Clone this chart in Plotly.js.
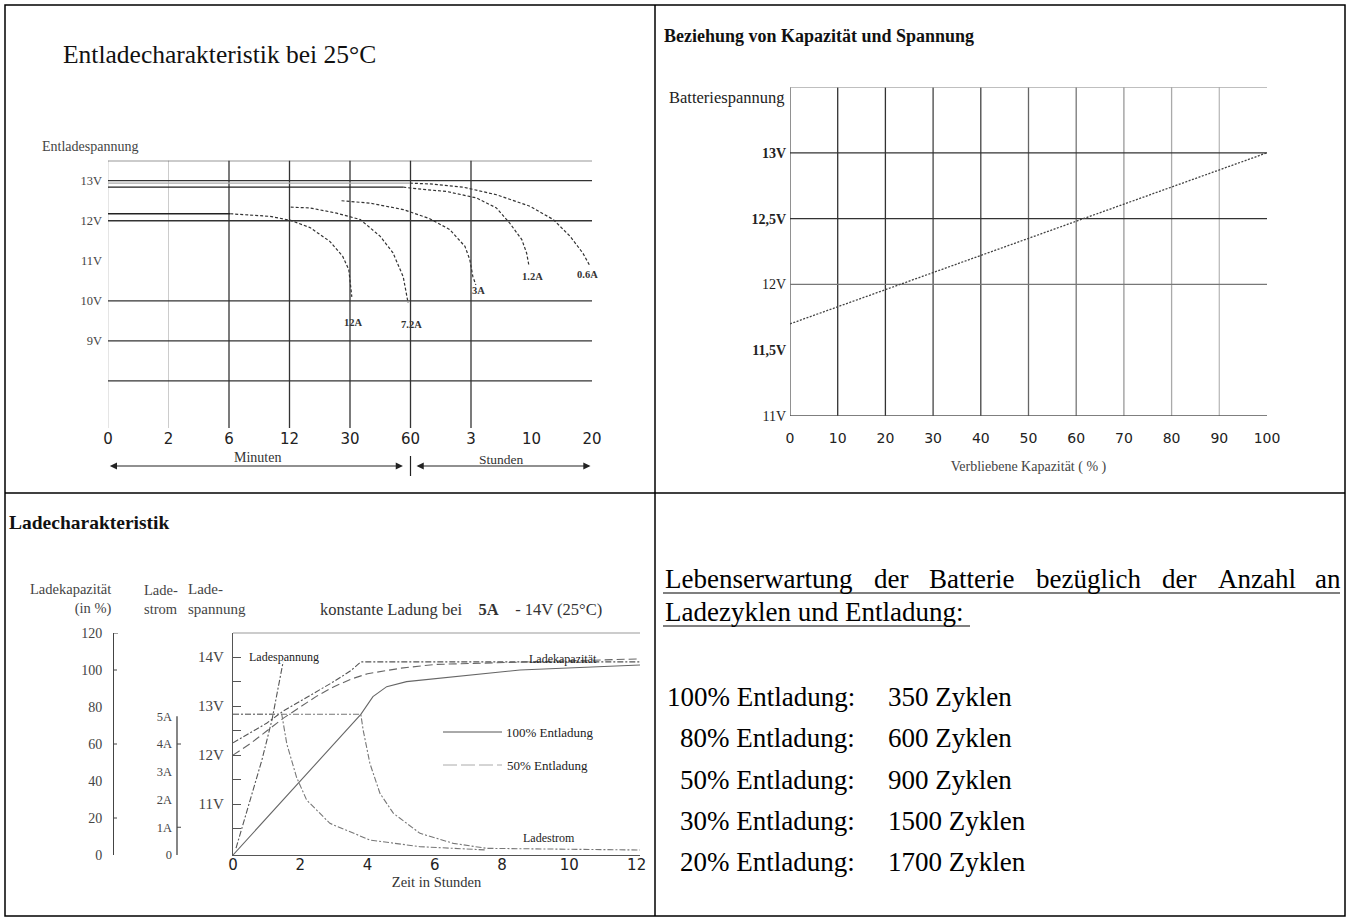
<!DOCTYPE html>
<html><head><meta charset="utf-8">
<script src="https://cdn.plot.ly/plotly-3.0.1.min.js"></script>
<style>html,body{margin:0;padding:0;background:#fff}#chart{width:1349px;height:919px}</style>
</head><body><div id="chart"></div>
<script>
// ---------------- DATA ----------------
// Panel 1: Entladecharakteristik (x = position on the mixed minutes/hours scale)
const dischargeTickLabels = ['0','2','6','12','30','60','3','10','20'];
const dischargeTickPos = [0,1,2,3,4,5,6,7,8];
const dischargeVoltTicks = [13,12,11,10,9];
const dischargeVoltText = ['13V','12V','11V','10V','9V'];
const dischargeGridVolt = [13.5,13,12,10,9,8];
const dischargeGridDark = [2,3,4,5,6];
const dischargeGridLight = [0,1];

const plateau12A_x = [0, 2.02];
const plateau12A_v = [12.175, 12.175];
const curve12A_x = [2.02, 2.68, 3.02, 3.34, 3.67, 3.88, 3.98, 4.03];
const curve12A_v = [12.175, 12.11, 12.01, 11.83, 11.48, 11.11, 10.78, 10.1];

const curve72A_x = [3.02, 3.34, 3.78, 4.17, 4.50, 4.71, 4.88, 4.96];
const curve72A_v = [12.34, 12.32, 12.19, 12.03, 11.61, 11.2, 10.6, 9.95];

const curve3A_x = [3.86, 4.33, 4.88, 5.32, 5.65, 5.90, 5.98, 6.03, 6.08];
const curve3A_v = [12.5, 12.44, 12.28, 12.05, 11.78, 11.36, 11.03, 10.61, 10.4];

const plateau12_x = [0, 4.88];
const plateau12_v = [12.84, 12.84];
const curve12_x = [4.88, 5.10, 5.60, 6.09, 6.42, 6.64, 6.84, 6.92, 6.96];
const curve12_v = [12.84, 12.8, 12.73, 12.57, 12.32, 11.94, 11.53, 11.19, 10.86];

const plateau06_x = [0, 4.99];
const plateau06_v = [12.94, 12.94];
const curve06_x = [4.99, 5.32, 5.87, 6.42, 6.98, 7.36, 7.64, 7.85, 7.97];
const curve06_v = [12.94, 12.92, 12.84, 12.65, 12.36, 12.03, 11.61, 11.19, 10.86];

const currentLabels = ['12A','7.2A','3A','1.2A','0.6A'];
const currentLabelX = [4.05, 5.01, 6.13, 7.01, 7.92];
const currentLabelV = [9.45, 9.40, 10.25, 10.60, 10.65];

// Panel 2: Beziehung von Kapazitaet und Spannung
const capPct = [0,10,20,30,40,50,60,70,80,90,100];
const capVolt = [11.70,11.83,11.96,12.09,12.22,12.35,12.48,12.61,12.74,12.87,13.00];
const capVoltTicks = [11,11.5,12,12.5,13];
const capVoltText = ['11V','<b>11,5V</b>','12V','<b>12,5V</b>','<b>13V</b>'];
const capGridVolt = [13.5,13,12.5,12,11];
const capGridPct = [0,10,20,30,40,50,60,70,80,90];

// Panel 3: Ladecharakteristik
const chargeHourTicks = [0,2,4,6,8,10,12];
const chargeVoltTicks = [10.5,11,11.5,12,12.5,13,13.5,14];
const chargeVoltText = ['','11V','','12V','','13V','','14V'];
const chargePctTicks = [0,20,40,60,80,100,120];
const chargeAmpTicks = [0,1,2,3,4,5];
const chargeAmpText = ['0','1A','2A','3A','4A','5A'];

const volt100_h = [0, 0.5, 1.0, 1.5, 2.0, 2.5, 3.0, 3.5, 3.8, 6, 9, 12.1];
const volt100_v = [12.25, 12.45, 12.65, 12.9, 13.1, 13.3, 13.5, 13.72, 13.9, 13.9, 13.9, 13.9];
const volt50_h = [0.09, 0.5, 0.86, 1.16, 1.40, 1.49];
const volt50_v = [10.1, 11.08, 11.9, 12.72, 13.53, 13.9];

const cap100_h = [0, 3.8, 4.16, 4.57, 5.16, 6.55, 8.53, 12.1];
const cap100_p = [0, 76, 85.6, 91, 93.7, 96.4, 100, 102.7];
const cap50_h = [0, 0.5, 1, 1.5, 2, 2.5, 3, 3.5, 4, 5, 6, 8, 10, 12.1];
const cap50_p = [54, 60, 67, 74, 80, 86, 91, 95, 98, 101, 103, 104, 105, 106];

const cur100_h = [0, 3.8, 3.87, 4.07, 4.37, 4.77, 5.56, 6.55, 7.54, 12.1];
const cur100_a = [5.07, 5.07, 4.5, 3.3, 2.22, 1.5, 0.78, 0.42, 0.24, 0.18];
const cur50_h = [0, 1.45, 1.6, 1.89, 2.19, 2.88, 4.07, 5.56, 7.54];
const cur50_a = [5.07, 5.07, 4.0, 2.8, 1.98, 1.14, 0.54, 0.3, 0.18];

// Panel 4: Lebenserwartung
const lifeDepth = ['100%','80%','50%','30%','20%'];
const lifeCycles = [350, 600, 900, 1500, 1700];

// ---------------- LAYOUT HELPERS ----------------
const W = 1349, H = 919;
const px = v => v / W;
const py = v => 1 - v / H;
const SERIF = '"Liberation Serif", "Times New Roman", serif';
const SANS = '"DejaVu Sans", Verdana, sans-serif';

const dotted = {color:'#333', width:1.2, dash:'3px,2px'};
const traces = [];
function add(x, y, xa, ya, line){ traces.push({x:x, y:y, xaxis:xa, yaxis:ya, mode:'lines', line:line, hoverinfo:'skip', showlegend:false}); }

// Panel 1 traces
add(plateau12A_x, plateau12A_v, 'x', 'y', {color:'#222', width:1.4});
add(curve12A_x, curve12A_v, 'x', 'y', dotted);
add(curve72A_x, curve72A_v, 'x', 'y', dotted);
add(curve3A_x, curve3A_v, 'x', 'y', dotted);
add(plateau12_x, plateau12_v, 'x', 'y', {color:'#222', width:1.4});
add(curve12_x, curve12_v, 'x', 'y', dotted);
add(plateau06_x, plateau06_v, 'x', 'y', {color:'#aaa', width:1.2});
add(curve06_x, curve06_v, 'x', 'y', dotted);

// Panel 2 trace
add(capPct, capVolt, 'x2', 'y2', {color:'#444', width:1.3, dash:'2px,1.5px'});

// Panel 3 traces
add(cur100_h, cur100_a, 'x3', 'y5', {color:'#777', width:1.1, dash:'6px,2px,2px,2px'});
add(cur50_h, cur50_a, 'x3', 'y5', {color:'#777', width:1.1, dash:'6px,2px,2px,2px'});
add(volt100_h, volt100_v, 'x3', 'y3', {color:'#555', width:1.1, dash:'6px,2px,2px,2px'});
add(volt50_h, volt50_v, 'x3', 'y3', {color:'#555', width:1.1, dash:'6px,2px,2px,2px'});
add(cap100_h, cap100_p, 'x3', 'y4', {color:'#666', width:1.1});
add(cap50_h, cap50_p, 'x3', 'y4', {color:'#666', width:1.1, dash:'8px,4px'});

// ---------------- SHAPES ----------------
const shapes = [];
const blk = {color:'#000', width:1.5};
shapes.push({type:'rect', xref:'paper', yref:'paper', x0:px(5), x1:px(1345), y0:py(916), y1:py(5), line:blk});
shapes.push({type:'line', xref:'paper', yref:'paper', x0:px(655), x1:px(655), y0:py(916), y1:py(5), line:blk});
shapes.push({type:'line', xref:'paper', yref:'paper', x0:px(5), x1:px(1345), y0:py(493), y1:py(493), line:blk});

dischargeGridVolt.forEach(v => shapes.push({type:'line', xref:'x', yref:'y', x0:0, x1:8, y0:v, y1:v, line:{color:'#333', width:1.3}, layer:'below'}));
dischargeGridDark.forEach(p => shapes.push({type:'line', xref:'x', yref:'y domain', x0:p, x1:p, y0:0, y1:1, line:{color:'#333', width:1.3}, layer:'below'}));
dischargeGridLight.forEach(p => shapes.push({type:'line', xref:'x', yref:'y domain', x0:p, x1:p, y0:0, y1:1, line:{color:'#ccc', width:1}, layer:'below'}));
shapes.push({type:'line', xref:'x', yref:'paper', x0:5, x1:5, y0:py(476), y1:py(456), line:{color:'#222', width:1.2}});

const capGridColors = ['#aaa','#333','#333','#777','#555'];
capGridVolt.forEach((v,i) => shapes.push({type:'line', xref:'x2', yref:'y2', x0:0, x1:100, y0:v, y1:v, line:{color:capGridColors[i], width:1.3}, layer:'below'}));
const capVColors = ['#555','#333','#333','#444','#444','#666','#777','#999','#aaa','#bbb'];
capGridPct.forEach((p,i) => shapes.push({type:'line', xref:'x2', yref:'y2 domain', x0:p, x1:p, y0:0, y1:1, line:{color:capVColors[i], width:1.3}, layer:'below'}));

shapes.push({type:'line', xref:'x3 domain', yref:'y3 domain', x0:0, x1:1, y0:1, y1:1, line:{color:'#999', width:1.2}});
shapes.push({type:'line', xref:'paper', yref:'y5', x0:px(177), x1:px(177), y0:0, y1:5, line:{color:'#444', width:1.3}});
[1,4].forEach(a => shapes.push({type:'line', xref:'paper', yref:'y5', x0:px(177), x1:px(181), y0:a, y1:a, line:{color:'#444', width:1}}));
shapes.push({type:'line', xref:'paper', yref:'y4', x0:px(113), x1:px(118), y0:120, y1:120, line:{color:'#444', width:1}});
[20,60,100].forEach(p => shapes.push({type:'line', xref:'paper', yref:'y4', x0:px(113), x1:px(117), y0:p, y1:p, line:{color:'#444', width:1}}));
shapes.push({type:'line', xref:'paper', yref:'paper', x0:px(443), x1:px(502), y0:py(732), y1:py(732), line:{color:'#555', width:1}});
shapes.push({type:'line', xref:'paper', yref:'paper', x0:px(443), x1:px(502), y0:py(765), y1:py(765), line:{color:'#aaa', width:1, dash:'14px,4px'}});

shapes.push({type:'line', xref:'paper', yref:'paper', x0:px(663), x1:px(1340), y0:py(593), y1:py(593), line:{color:'#000', width:1.2}});
shapes.push({type:'line', xref:'paper', yref:'paper', x0:px(663), x1:px(970), y0:py(626), y1:py(626), line:{color:'#000', width:1.2}});

// ---------------- ANNOTATIONS ----------------
const ann = [];
function txt(t, x, y, o){ ann.push(Object.assign({text:t, xref:'paper', yref:'paper', x:px(x), y:py(y), showarrow:false, xanchor:'left', yanchor:'middle', font:{family:SERIF, size:13, color:'#222'}}, o||{})); }

txt('Entladecharakteristik bei 25°C', 61, 55, {font:{family:SERIF, size:25.5, color:'#111'}});
txt('Entladespannung', 40, 146, {font:{family:SERIF, size:14, color:'#444'}});
currentLabels.forEach((t,i) => ann.push({text:'<b>'+t+'</b>', xref:'x', yref:'y', x:currentLabelX[i], y:currentLabelV[i], showarrow:false, font:{family:SERIF, size:10.5, color:'#333'}}));
ann.push({text:'', xref:'x', yref:'paper', axref:'x', ayref:'pixel', x:0.03, ax:4.9, y:py(466), ay:0, showarrow:true, arrowside:'end+start', arrowhead:2, arrowsize:1.2, arrowwidth:1.2, arrowcolor:'#222'});
ann.push({text:'', xref:'x', yref:'paper', axref:'x', ayref:'pixel', x:5.1, ax:8.0, y:py(466), ay:0, showarrow:true, arrowside:'end+start', arrowhead:2, arrowsize:1.2, arrowwidth:1.2, arrowcolor:'#222'});
ann.push({text:'Minuten', xref:'x', yref:'paper', x:2.47, y:py(457), showarrow:false, font:{family:SERIF, size:14, color:'#333'}});
ann.push({text:'Stunden', xref:'x', yref:'paper', x:6.5, y:py(459), showarrow:false, font:{family:SERIF, size:13.5, color:'#333'}});

txt('<b>Beziehung von Kapazität und Spannung</b>', 662, 36, {font:{family:SERIF, size:18, color:'#111'}});
txt('Batteriespannung', 786, 97, {xanchor:'right', font:{family:SERIF, size:16.5, color:'#222'}});

txt('<b>Ladecharakteristik</b>', 7, 522, {font:{family:SERIF, size:19.5, color:'#111'}});
txt('Ladekapazität<br>(in %)', 113, 599, {xanchor:'right', align:'right', font:{family:SERIF, size:14.5, color:'#444'}});
txt('Lade-<br>strom', 142, 599, {align:'left', font:{family:SERIF, size:14.5, color:'#444'}});
txt('Lade-<br>spannung', 186, 599, {align:'left', font:{family:SERIF, size:15, color:'#444'}});
txt('konstante Ladung bei\u00a0\u00a0\u00a0 <b>5A</b>\u00a0\u00a0\u00a0 - 14V (25°C)', 318, 609, {font:{family:SERIF, size:16.5, color:'#333'}});
txt('Ladespannung', 247, 657, {font:{family:SERIF, size:12, color:'#222'}});
txt('Ladekapazität', 527, 659, {font:{family:SERIF, size:12, color:'#222'}});
txt('Ladestrom', 521, 838, {font:{family:SERIF, size:12, color:'#222'}});
txt('100% Entladung', 504, 732, {font:{family:SERIF, size:13, color:'#222'}});
txt('50% Entladung', 505, 765, {font:{family:SERIF, size:13, color:'#222'}});

const lineWords = ['Lebenserwartung','der','Batterie','bezüglich','der','Anzahl','an'];
const lineWordX = [663, 871.5, 927, 1033.5, 1159.5, 1215.5, 1313];
lineWords.forEach((w,i) => txt(w, lineWordX[i], 579, {font:{family:SERIF, size:27, color:'#000'}}));
txt('Ladezyklen und Entladung:', 663, 612, {font:{family:SERIF, size:27, color:'#000'}});
lifeDepth.forEach((d,i) => {
  const y = 697 + i*41.3;
  txt(d + ' Entladung:', 857, y, {xanchor:'right', font:{family:SERIF, size:27, color:'#000'}});
  txt(lifeCycles[i] + ' Zyklen', 886, y, {font:{family:SERIF, size:27, color:'#000'}});
});

// ---------------- LAYOUT ----------------
const layout = {
  width: W, height: H, margin:{l:0, r:0, t:0, b:0, pad:0},
  paper_bgcolor:'#fff', plot_bgcolor:'rgba(0,0,0,0)',
  showlegend:false,
  font:{family:SERIF, color:'#222'},
  xaxis:{domain:[px(108), px(592)], range:[0,8], anchor:'y', tickvals:dischargeTickPos, ticktext:dischargeTickLabels,
         showgrid:false, zeroline:false, showline:false, ticks:'', tickfont:{family:SANS, size:15, color:'#222'}},
  yaxis:{domain:[py(428), py(160.7)], range:[6.825, 13.5], anchor:'x', tickvals:dischargeVoltTicks, ticktext:dischargeVoltText,
         showgrid:false, zeroline:false, showline:false, ticks:'', ticklabelstandoff:5, tickfont:{family:SERIF, size:12.5, color:'#444'}},
  xaxis2:{domain:[px(790), px(1267)], range:[0,100], anchor:'y2', tickvals:capPct, showgrid:false, zeroline:false, showline:false, ticks:'',
          ticklabelstandoff:12, tickfont:{family:SANS, size:14, color:'#222'},
          title:{text:'Verbliebene Kapazität ( % )', font:{family:SERIF, size:14, color:'#444'}, standoff:16}},
  yaxis2:{domain:[py(416), py(87)], range:[11,13.5], anchor:'x2', tickvals:capVoltTicks, ticktext:capVoltText,
          showgrid:false, zeroline:false, showline:false, ticks:'', ticklabelstandoff:3, tickfont:{family:SERIF, size:14, color:'#222'}},
  xaxis3:{domain:[px(233), px(640)], range:[0,12.1], anchor:'y3', tickvals:chargeHourTicks, showgrid:false, zeroline:false,
          showline:true, linecolor:'#555', linewidth:1.2, ticks:'', ticklabelstandoff:-4, tickfont:{family:SANS, size:15, color:'#222'},
          title:{text:'Zeit in Stunden', font:{family:SERIF, size:14.5, color:'#333'}, standoff:0}},
  yaxis3:{domain:[py(855), py(633)], range:[9.96,14.49], anchor:'x3', tickvals:chargeVoltTicks, ticktext:chargeVoltText,
          showgrid:false, zeroline:false, showline:true, linecolor:'#555', linewidth:1.2, ticks:'inside', ticklen:8, tickcolor:'#555',
          ticklabelstandoff:5, tickfont:{family:SERIF, size:15, color:'#444'}},
  yaxis4:{overlaying:'y3', anchor:'free', position:px(113), side:'left', range:[0,120], tickvals:chargePctTicks,
          showgrid:false, zeroline:false, showline:true, linecolor:'#444', linewidth:1.4, ticks:'', ticklabelstandoff:8,
          tickfont:{family:SERIF, size:14, color:'#444'}},
  yaxis5:{overlaying:'y3', anchor:'free', position:px(177), side:'left', range:[0,8], tickvals:chargeAmpTicks, ticktext:chargeAmpText,
          showgrid:false, zeroline:false, showline:false, ticks:'', ticklabelstandoff:5, tickfont:{family:SERIF, size:12.5, color:'#444'}},
  yaxis6:{overlaying:'y3', anchor:'x3', side:'right', range:[9.96,14.49], tickvals:chargeVoltTicks, showticklabels:false,
          showgrid:false, zeroline:false, showline:false, ticks:'inside', ticklen:8, tickcolor:'#666'},
  shapes: shapes,
  annotations: ann
};

Plotly.newPlot('chart', traces, layout, {displayModeBar:false, staticPlot:true});
</script></body></html>
